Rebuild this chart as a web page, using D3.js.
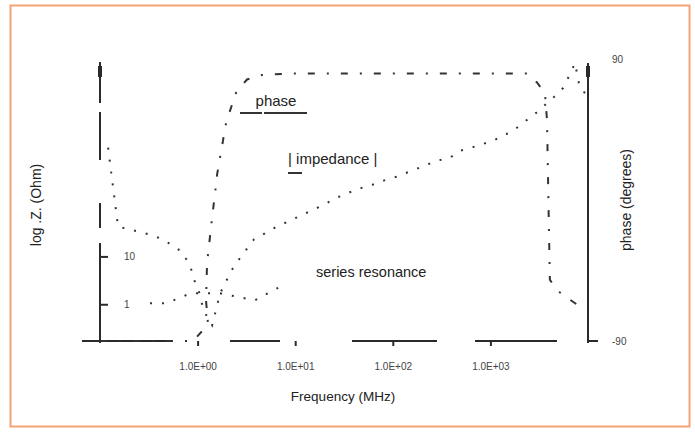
<!DOCTYPE html>
<html>
<head>
<meta charset="utf-8">
<script src="https://cdn.jsdelivr.net/npm/d3@7"></script>
<style>
  body { margin: 0; background: #fff; }
  text { font-family: "Liberation Sans", Arial, sans-serif; fill: #222; }
</style>
</head>
<body>
<div id="chart-area"></div>
<script>
// data (frequency in MHz, |Z| in Ohm, phase in degrees)
var impFreq = [0.121, 0.153, 0.325, 0.442, 0.66, 0.78, 0.855, 0.94, 1.01, 1.08, 1.135, 1.25, 1.41,
  1.70, 2.20, 2.47, 2.85, 3.78, 4.68, 5.65, 18.8, 26.8, 32.3, 44, 55.7, 74, 110, 284, 385, 489,
  589, 1064, 1706, 2160, 2864, 4378, 5540, 6550, 7370, 8090, 8690, 9770];
var impValue = [1870, 42, 28.7, 22.6, 13.3, 8.3, 5.6, 2.9, 2.26, 1.21, 0.866, 0.54, 0.365,
  1.69, 4.87, 7.1, 10.5, 22.6, 28.7, 36.5, 115, 170, 196, 261, 287, 365, 464, 1000, 1155, 1616,
  1778, 2610, 4217, 6170, 9500, 20500, 33000, 64900, 110000, 40000, 28700, 25000];

var phaseFreq = [0.1, 0.5, 0.9, 1.28, 1.22, 1.25, 1.41, 1.51, 1.58, 1.70, 1.82, 1.91, 2.05, 2.25,
  2.42, 2.59, 3.21, 4.57, 8.6, 2370, 3000, 3620, 3800, 3890, 3980, 4070, 4790, 6090, 8280];
var phaseValue = [-90, -90, -90, -79, -63, -38, -7, 9, 21, 33, 44, 53, 60, 68,
  75, 78, 85, 88, 89, 89, 83, 76, 58, 21, -16, -49, -56, -61, -67];

var esrFreq = [0.325, 0.463, 0.644, 0.836, 1.70, 3.87, 6.83];
var esrValue = [1.05, 1.05, 1.33, 1.69, 1.69, 1.21, 2.26];

var freqTicks = [1, 10, 100, 1000];
var freqLabels = ["1.0E+00", "1.0E+01", "1.0E+02", "1.0E+03"];
var zTicks = [1, 10];
var zLabels = ["1", "10"];
var phaseTicks = [90, -90];
var phaseLabels = ["90", "-90"];

var width = 695;
var height = 432;

var svg = d3.select("#chart-area").append("svg")
  .attr("width", width)
  .attr("height", height);

// orange frame
svg.append("rect")
  .attr("x", 10.5).attr("y", 5.5)
  .attr("width", 679).attr("height", 421)
  .attr("fill", "none")
  .attr("stroke", "#f4a277")
  .attr("stroke-width", 2);

// Scales
var x = d3.scaleLog().domain([0.1, 10000]).range([100, 588]);
var yZ = d3.scaleLog().domain([0.155, 100000]).range([343, 65]);
var yP = d3.scaleLinear().domain([-90, 90]).range([341, 72]);

var axisColor = "#2a2a2a";

// broken-looking axis lines (scanned look)
svg.append("line")
  .attr("x1", 82).attr("x2", 598)
  .attr("y1", 341).attr("y2", 341)
  .attr("stroke", axisColor).attr("stroke-width", 2)
  .attr("stroke-dasharray", "90,58,50,72,85,38,82,31,20");

svg.append("line")
  .attr("x1", 100).attr("x2", 100)
  .attr("y1", 62).attr("y2", 343)
  .attr("stroke", axisColor).attr("stroke-width", 2)
  .attr("stroke-dasharray", "41,9,48,43,25,15,100");

svg.append("line")
  .attr("x1", 588).attr("x2", 588)
  .attr("y1", 63).attr("y2", 343)
  .attr("stroke", axisColor).attr("stroke-width", 2);

// thick caps at the top of both axes
svg.append("line")
  .attr("x1", 100).attr("x2", 100)
  .attr("y1", 66).attr("y2", 77)
  .attr("stroke", axisColor).attr("stroke-width", 4);
svg.append("line")
  .attr("x1", 588).attr("x2", 588)
  .attr("y1", 66).attr("y2", 77)
  .attr("stroke", axisColor).attr("stroke-width", 4);

// Axis groups
var xAxisGroup = svg.append("g")
  .attr("transform", "translate(0, 341)")
  .call(d3.axisBottom(x)
    .tickValues(freqTicks)
    .tickSize(5)
    .tickPadding(17)
    .tickFormat((d, i) => freqLabels[i]));

var zAxisGroup = svg.append("g")
  .attr("transform", "translate(100, 0)")
  .call(d3.axisRight(yZ)
    .tickValues(zTicks)
    .tickSize(8)
    .tickPadding(16)
    .tickFormat((d, i) => zLabels[i]));

var pAxisGroup = svg.append("g")
  .attr("transform", "translate(588, 0)")
  .call(d3.axisRight(yP)
    .tickValues(phaseTicks)
    .tickSize(0)
    .tickPadding(24)
    .tickFormat((d, i) => phaseLabels[i]));

[xAxisGroup, zAxisGroup, pAxisGroup].forEach((g) => {
  g.select(".domain").remove();
  g.selectAll(".tick line").attr("stroke", axisColor).attr("stroke-width", 2);
  g.selectAll(".tick text")
    .style("font-family", "Liberation Sans, Arial, sans-serif")
    .style("font-size", "10px")
    .style("fill", "#444");
});
pAxisGroup.selectAll(".tick text").attr("y", (d) => d === 90 ? -13 : 0);

// curves
var impLine = d3.line()
  .x((d, i) => x(impFreq[i]))
  .y((d) => yZ(d));

svg.append("path")
  .datum(impValue)
  .attr("d", impLine)
  .attr("fill", "none")
  .attr("stroke", "#333")
  .attr("stroke-width", 2)
  .attr("stroke-dasharray", "2,10");

var esrLine = d3.line()
  .x((d, i) => x(esrFreq[i]))
  .y((d) => yZ(d));

svg.append("path")
  .datum(esrValue)
  .attr("d", esrLine)
  .attr("fill", "none")
  .attr("stroke", "#333")
  .attr("stroke-width", 2)
  .attr("stroke-dasharray", "2,10");

var phaseLine = d3.line()
  .x((d, i) => x(phaseFreq[i]))
  .y((d) => yP(d));

svg.append("path")
  .datum(phaseValue)
  .attr("d", phaseLine)
  .attr("fill", "none")
  .attr("stroke", "#333")
  .attr("stroke-width", 2)
  .attr("stroke-dasharray", "7,12,2,12");

// legend-like annotations
svg.append("text")
  .attr("x", 276).attr("y", 106)
  .attr("text-anchor", "middle")
  .style("font-size", "15px")
  .text("phase");

svg.append("line")
  .attr("x1", 240).attr("x2", 307)
  .attr("y1", 113).attr("y2", 113)
  .attr("stroke", "#333").attr("stroke-width", 2)
  .attr("stroke-dasharray", "22,2,43");

svg.append("text")
  .attr("x", 288).attr("y", 164)
  .style("font-size", "15px")
  .text("| impedance |");

svg.append("line")
  .attr("x1", 288).attr("x2", 302)
  .attr("y1", 173).attr("y2", 173)
  .attr("stroke", "#333").attr("stroke-width", 2);

svg.append("text")
  .attr("x", 316).attr("y", 277)
  .style("font-size", "14.5px")
  .text("series resonance");

// axis titles
svg.append("text")
  .attr("x", 343).attr("y", 401)
  .attr("text-anchor", "middle")
  .style("font-size", "13.5px")
  .text("Frequency (MHz)");

svg.append("text")
  .attr("transform", "rotate(-90)")
  .attr("x", -205).attr("y", 41)
  .attr("text-anchor", "middle")
  .style("font-size", "14px")
  .text("log .Z. (Ohm)");

svg.append("text")
  .attr("transform", "rotate(-90)")
  .attr("x", -200).attr("y", 631)
  .attr("text-anchor", "middle")
  .style("font-size", "14px")
  .text("phase (degrees)");
</script>
</body>
</html>
